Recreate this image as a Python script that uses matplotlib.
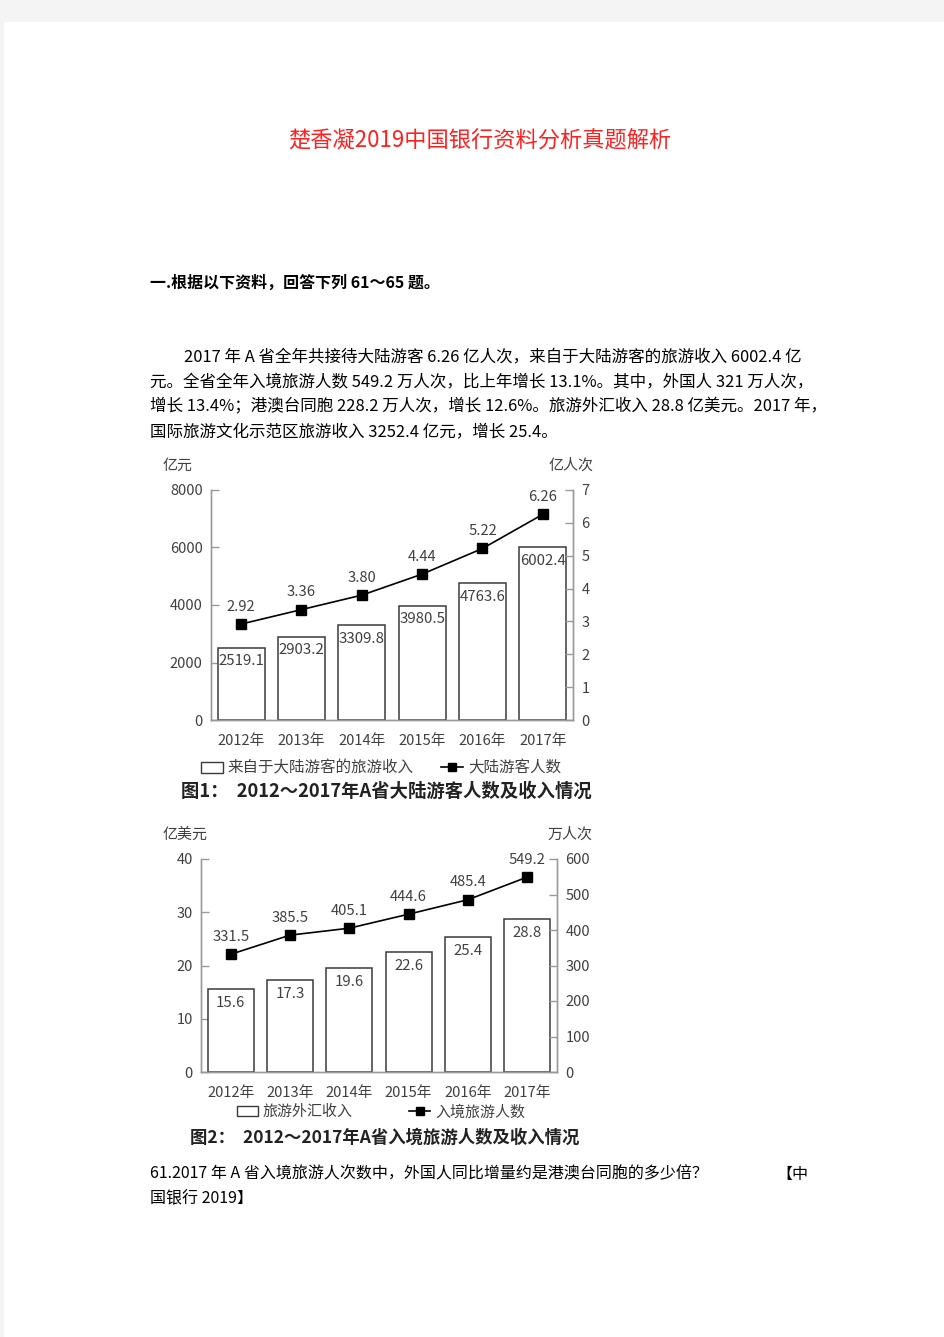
import matplotlib
matplotlib.use('Agg')
import matplotlib.pyplot as plt
from matplotlib.patches import Rectangle, Patch
from matplotlib.lines import Line2D

plt.rcParams['font.family'] = ['Noto Sans CJK SC', 'DejaVu Sans']

# 数据
years = ['2012年', '2013年', '2014年', '2015年', '2016年', '2017年']
income_mainland = [2519.1, 2903.2, 3309.8, 3980.5, 4763.6, 6002.4]   # 亿元
visitors_mainland = [2.92, 3.36, 3.80, 4.44, 5.22, 6.26]             # 亿人次
fx_income = [15.6, 17.3, 19.6, 22.6, 25.4, 28.8]                     # 亿美元
inbound_visitors = [331.5, 385.5, 405.1, 444.6, 485.4, 549.2]        # 万人次

W, H = 945, 1337
TXT = '#404040'
EDGE = '#3a3a3a'
SPINE = '#9a9a9a'


def fx(x):
    return x / W


def fy(y):
    return 1 - y / H


fig = plt.figure(figsize=(W / 100, H / 100), dpi=100, facecolor='#f4f4f4')
fig.patches.append(Rectangle((fx(4), 0), 1, fy(22), transform=fig.transFigure,
                             facecolor='white', edgecolor='none', zorder=0))

# 页面文字
fig.text(fx(480), fy(140), '楚香凝2019中国银行资料分析真题解析', color='#ff2020',
         fontsize=16, ha='center', va='center')
fig.text(fx(150), fy(283), '一.根据以下资料，回答下列 61～65 题。', fontsize=11.5,
         fontweight='bold', va='center')
body = [
    (184, 357, '2017 年 A 省全年共接待大陆游客 6.26 亿人次，来自于大陆游客的旅游收入 6002.4 亿'),
    (150, 382, '元。全省全年入境旅游人数 549.2 万人次，比上年增长 13.1%。其中，外国人 321 万人次，'),
    (150, 407, '增长 13.4%；港澳台同胞 228.2 万人次，增长 12.6%。旅游外汇收入 28.8 亿美元。2017 年，'),
    (150, 432, '国际旅游文化示范区旅游收入 3252.4 亿元，增长 25.4。'),
]
for x, y, s in body:
    fig.text(fx(x), fy(y), s, fontsize=11.9, va='center')
fig.text(fx(150), fy(1174), '61.2017 年 A 省入境旅游人次数中，外国人同比增量约是港澳台同胞的多少倍？',
         fontsize=11.5, va='center')
fig.text(fx(808), fy(1174), '【中', fontsize=11.5, va='center', ha='right')
fig.text(fx(150), fy(1199), '国银行 2019】', fontsize=11.5, va='center')


def draw_chart(left, right, top, bottom, bars, line, ylim1, ylim2, yt1, yt2,
               lab1, lab2, lab_dx, bar_fmt, line_fmt, leg_names, leg_xy, leg_gap, leg_size,
               caption, cap_xy, cap_size):
    ax = fig.add_axes([fx(left), fy(bottom), (right - left) / W, (bottom - top) / H])
    ax2 = ax.twinx()
    x = range(len(years))
    ax.bar(x, bars, width=0.78, facecolor='white', edgecolor=EDGE, linewidth=1.1, zorder=2)
    for xi, v in zip(x, bars):
        ax.annotate(bar_fmt.format(v), (xi, v), xytext=(0, -10), textcoords='offset points',
                    ha='center', va='center', fontsize=10.8, color=TXT, zorder=3)
    ax2.plot(x, line, color='black', linewidth=1.2, marker='s', markersize=6.5, zorder=4)
    for xi, v in zip(x, line):
        ax2.annotate(line_fmt.format(v), (xi, v), xytext=(0, 12.5), textcoords='offset points',
                     ha='center', va='center', fontsize=10.6, color=TXT)
    ax.set_xlim(-0.5, len(years) - 0.5)
    ax.set_ylim(*ylim1)
    ax2.set_ylim(*ylim2)
    ax.set_yticks(yt1)
    ax2.set_yticks(yt2)
    ax.set_xticks(list(x))
    ax.set_xticklabels(years)
    for a in (ax, ax2):
        a.set_facecolor('none')
        a.spines['top'].set_visible(False)
        for s in a.spines.values():
            s.set_color(SPINE)
            s.set_linewidth(1.0)
        a.tick_params(axis='y', direction='in', length=6, width=1.0, color=SPINE,
                      labelsize=10.5, labelcolor=TXT, pad=6)
    ax.tick_params(axis='x', length=0, labelsize=10.6, labelcolor=TXT, pad=10)
    ax.set_zorder(1)
    ax2.set_zorder(2)
    fig.text(fx(left - lab_dx[0]), fy(top - 24), lab1, fontsize=10.8, color=TXT, va='center', ha='left')
    fig.text(fx(right + lab_dx[1]), fy(top - 24), lab2, fontsize=10.8, color=TXT, va='center', ha='right')
    handles = [Patch(facecolor='white', edgecolor=EDGE, linewidth=1.0),
               Line2D([], [], color='black', linewidth=1.2, marker='s', markersize=6)]
    ax.legend(handles, leg_names, loc='center', ncol=2, frameon=False, fontsize=leg_size,
              labelcolor=TXT, columnspacing=leg_gap, handlelength=1.4, handletextpad=0.3,
              bbox_to_anchor=(fx(leg_xy[0]), fy(leg_xy[1])), bbox_transform=fig.transFigure)
    fig.text(fx(cap_xy[0]), fy(cap_xy[1]), caption, fontsize=cap_size, fontweight='bold',
             color='#222222', ha='center', va='center')


draw_chart(211, 573, 490, 720, income_mainland, visitors_mainland, (0, 8000), (0, 7),
           range(0, 8001, 2000), range(0, 8), '亿元', '亿人次', (48, 21), '{:.1f}', '{:.2f}',
           ['来自于大陆游客的旅游收入', '大陆游客人数'], (381, 768), 1.8, 11.2,
           '图1：  2012～2017年A省大陆游客人数及收入情况', (386, 791), 13.2)

draw_chart(201, 557, 859, 1072, fx_income, inbound_visitors, (0, 40), (0, 600),
           range(0, 41, 10), range(0, 601, 100), '亿美元', '万人次', (38, 35), '{:.1f}', '{:.1f}',
           ['旅游外汇收入', '入境旅游人数'], (381, 1112), 3.8, 10.8,
           '图2：  2012～2017年A省入境旅游人数及收入情况', (385, 1138), 12.5)

fig.savefig('out.png', dpi=100, facecolor=fig.get_facecolor())
